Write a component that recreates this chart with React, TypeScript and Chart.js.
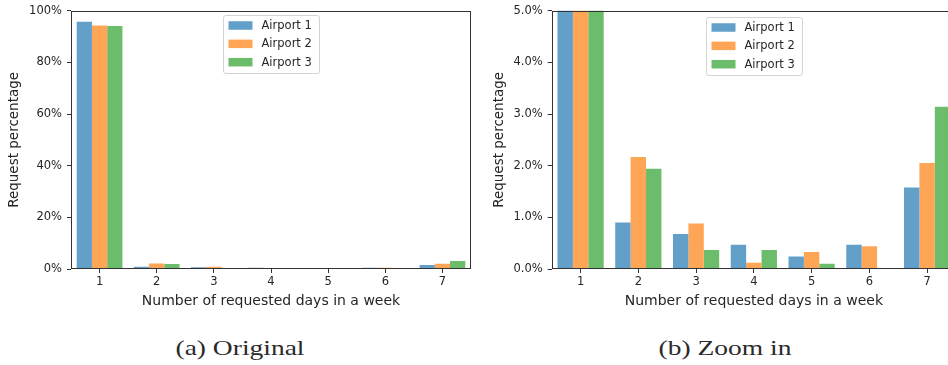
import React, { useEffect, useRef } from "react";
import { Chart, registerables } from "chart.js";

Chart.register(...registerables);

// Share of requests by number of requested days per week (percent)
const days = ["1", "2", "3", "4", "5", "6", "7"];
const airport1 = [95.7, 0.9, 0.68, 0.47, 0.24, 0.47, 1.58];
const airport2 = [94.3, 2.17, 0.88, 0.12, 0.33, 0.44, 2.05];
const airport3 = [94.1, 1.94, 0.37, 0.37, 0.1, 0, 3.14];

const seriesNames = ["Airport 1", "Airport 2", "Airport 3"];
const seriesColors = ["#62A0CA", "#FFA556", "#6BBC6B"];

const fullTicks = [0, 20, 40, 60, 80, 100];
const zoomTicks = [0, 1, 2, 3, 4, 5];

const AXIS_COLOR = "#333333";
const TEXT_COLOR = "#262626";
const SANS = "'DejaVu Sans', sans-serif";

// Outline of the whole plotting area (all four spines)
const framePlugin = {
  id: "axesFrame",
  afterDatasetsDraw(chart: any) {
    const { ctx, chartArea } = chart;
    const l = Math.round(chartArea.left) + 0.5;
    const t = Math.round(chartArea.top) + 0.5;
    const r = Math.round(chartArea.right) - 0.5;
    const b = Math.round(chartArea.bottom) - 0.5;
    ctx.save();
    ctx.strokeStyle = AXIS_COLOR;
    ctx.lineWidth = 1;
    ctx.strokeRect(l, t, r - l, b - t);
    ctx.restore();
  },
};

// Boxed legend placed at the upper centre of the plotting area
const boxLegendPlugin = {
  id: "boxLegend",
  afterDraw(chart: any, _args: any, opts: any) {
    const { ctx, chartArea } = chart;
    const w = 96;
    const h = 58;
    const cx = (chartArea.left + chartArea.right) / 2;
    const x0 = Math.round(cx - w / 2) + 0.5;
    const y0 = Math.round(chartArea.top + (opts.top ?? 4)) + 0.5;
    ctx.save();
    ctx.beginPath();
    if (ctx.roundRect) ctx.roundRect(x0, y0, w, h, 2.5);
    else ctx.rect(x0, y0, w, h);
    ctx.fillStyle = "rgba(255,255,255,0.85)";
    ctx.fill();
    ctx.strokeStyle = "#d4d4d4";
    ctx.lineWidth = 1;
    ctx.stroke();
    ctx.font = `11.5px ${SANS}`;
    ctx.textBaseline = "middle";
    ctx.textAlign = "left";
    chart.data.datasets.forEach((ds: any, i: number) => {
      const cy = y0 + 10 + i * 18.35;
      ctx.fillStyle = ds.backgroundColor;
      ctx.fillRect(x0 + 5, cy - 4.25, 24, 8.5);
      ctx.fillStyle = TEXT_COLOR;
      ctx.fillText(ds.label, x0 + 38, cy + 0.5);
    });
    ctx.restore();
  },
};

type PanelSpec = {
  width: number;
  height: number;
  yMax: number;
  yTicks: number[];
  yAxisWidth: number;
  padTop: number;
  padRight: number;
  yTitlePad: number;
  legendTop: number;
  format: (v: number) => string;
};

function buildConfig(p: PanelSpec): any {
  const values = [airport1, airport2, airport3];
  return {
    type: "bar",
    data: {
      labels: days,
      datasets: values.map((d, i) => ({
        label: seriesNames[i],
        data: d,
        backgroundColor: seriesColors[i],
        borderWidth: 0,
        barPercentage: 1,
        categoryPercentage: 0.8,
      })),
    },
    options: {
      responsive: false,
      animation: false,
      devicePixelRatio: 1,
      layout: { padding: { top: p.padTop, right: p.padRight, left: 0, bottom: 0 } },
      plugins: {
        legend: { display: false },
        tooltip: { enabled: false },
        boxLegend: { top: p.legendTop },
      },
      scales: {
        x: {
          type: "category",
          offset: true,
          border: { display: false },
          grid: {
            offset: false,
            drawOnChartArea: false,
            drawTicks: true,
            tickLength: 4,
            tickWidth: 1,
            tickColor: AXIS_COLOR,
          },
          ticks: {
            color: TEXT_COLOR,
            font: { family: SANS, size: 11.5, lineHeight: 1 },
            padding: 3,
            maxRotation: 0,
          },
          title: {
            display: true,
            text: "Number of requested days in a week",
            color: TEXT_COLOR,
            font: { family: SANS, size: 14 },
            padding: { top: 0, bottom: 10.6 },
          },
          afterFit(scale: any) {
            scale.height = 51;
          },
        },
        y: {
          min: 0,
          max: p.yMax,
          border: { display: false },
          grid: {
            drawOnChartArea: false,
            drawTicks: true,
            tickLength: 4,
            tickWidth: 1,
            tickColor: AXIS_COLOR,
          },
          afterBuildTicks(scale: any) {
            scale.ticks = p.yTicks.map((v) => ({ value: v }));
          },
          ticks: {
            color: TEXT_COLOR,
            font: { family: SANS, size: 11.5, lineHeight: 1 },
            padding: 5,
            callback: (v: any) => p.format(Number(v)),
          },
          title: {
            display: true,
            text: "Request percentage",
            color: TEXT_COLOR,
            font: { family: SANS, size: 13.5 },
            padding: { top: p.yTitlePad, bottom: 0 },
          },
          afterFit(scale: any) {
            scale.width = p.yAxisWidth;
          },
        },
      },
    },
    plugins: [framePlugin, boxLegendPlugin],
  };
}

const originalPanel: PanelSpec = {
  width: 480,
  height: 320,
  yMax: 100,
  yTicks: fullTicks,
  yAxisWidth: 71,
  padTop: 10,
  padRight: 9,
  yTitlePad: 6,
  legendTop: 4,
  format: (v) => `${v}%`,
};

const zoomPanel: PanelSpec = {
  width: 485,
  height: 320,
  yMax: 5,
  yTicks: zoomTicks,
  yAxisWidth: 71.7,
  padTop: 6.5,
  padRight: 9,
  yTitlePad: 11,
  legendTop: 6,
  format: (v) => `${v.toFixed(1)}%`,
};

function BarPanel({ spec, left }: { spec: PanelSpec; left: number }) {
  const ref = useRef<HTMLCanvasElement | null>(null);
  useEffect(() => {
    if (!ref.current) return;
    const chart = new Chart(ref.current, buildConfig(spec));
    return () => chart.destroy();
  }, [spec]);
  return (
    <canvas
      ref={ref}
      width={spec.width}
      height={spec.height}
      style={{
        position: "absolute",
        left,
        top: 0,
        width: spec.width,
        height: spec.height,
        display: "block",
      }}
    />
  );
}

function Caption({ text, cx }: { text: string; cx: number }) {
  return (
    <div
      style={{
        position: "absolute",
        left: cx - 150,
        width: 300,
        top: 333,
        textAlign: "center",
        fontFamily: "'Liberation Serif', serif",
        fontSize: 22,
        lineHeight: "30px",
        color: "#2a2a2a",
        transform: "scaleX(1.25)",
        whiteSpace: "nowrap",
      }}
    >
      {text}
    </div>
  );
}

export default function App() {
  return (
    <div
      style={{
        position: "fixed",
        left: 0,
        top: 0,
        width: 948,
        height: 365,
        overflow: "hidden",
        background: "#ffffff",
      }}
    >
      <BarPanel spec={originalPanel} left={0} />
      <BarPanel spec={zoomPanel} left={480} />
      <Caption text="(a) Original" cx={239.5} />
      <Caption text="(b) Zoom in" cx={724.5} />
    </div>
  );
}
